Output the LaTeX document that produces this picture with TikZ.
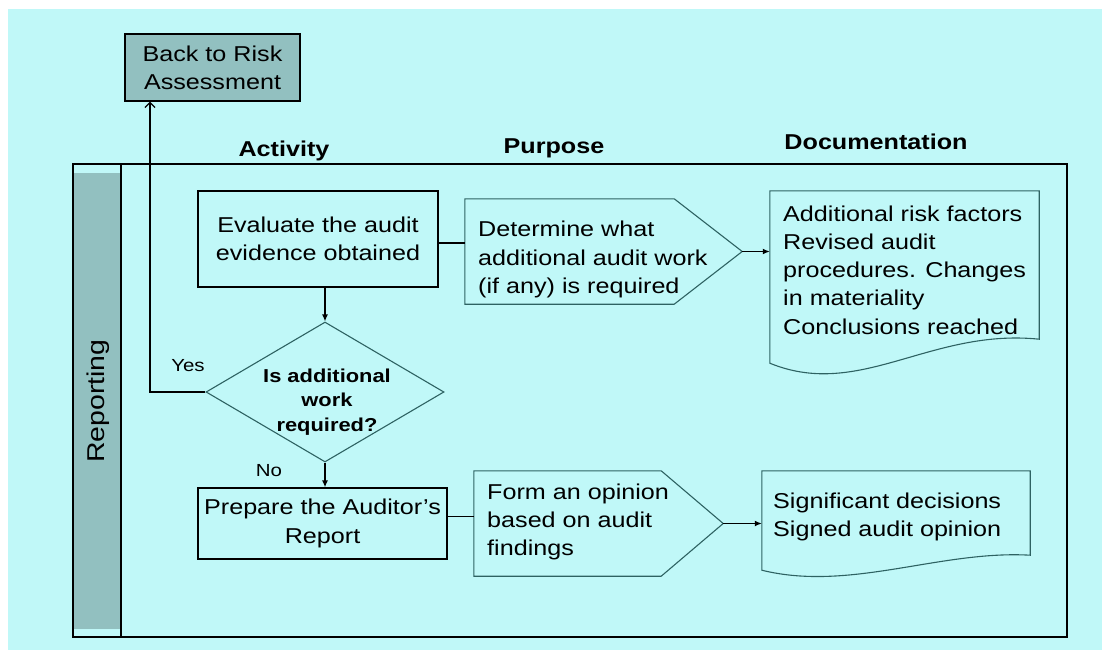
\documentclass[tikz,border=0pt]{standalone}
\usepackage{fontspec}
\setmainfont[FakeStretch=1.17]{Liberation Sans}
\usetikzlibrary{shapes.geometric,arrows.meta}
\definecolor{bgcyan}{HTML}{C0F8F8}
\definecolor{bandgray}{HTML}{92C0C0}
\definecolor{tealline}{HTML}{2E6262}
\begin{document}
\begin{tikzpicture}[x=1pt,y=-1pt,
  txt/.style={font=\fontsize{21.5}{28.2}\selectfont, inner sep=0pt},
  hdr/.style={font=\fontsize{21.5}{26}\selectfont\bfseries, inner sep=0pt},
  lbl/.style={font=\fontsize{17.5}{20}\selectfont, inner sep=0pt},
  abox/.style={txt, draw=black, line width=1.3pt, align=center},
  ghost/.style={draw=none, inner sep=0pt},
  pent/.style={draw=tealline, line width=1.1pt},
  docshape/.style={draw=tealline, line width=1.1pt},
  arr/.style={line width=1.3pt, -{Latex[length=7pt,width=6pt]}},
  conn/.style={line width=1.3pt},
  yesarr/.style={line width=1.3pt, -{Straight Barb[length=5pt,width=10pt]}}
]
\useasboundingbox (0,0) rectangle (1102,650);
\fill[white] (0,0) rectangle (1102,650);
\fill[bgcyan] (8,9) rectangle (1102,650);

% frame and swimlane band
\draw[line width=1.6pt] (73,164) rectangle (1067,637);
\fill[bandgray] (73.8,173) rectangle (120.3,629);
\draw[line width=1.6pt] (121,164) -- (121,637);
\node[rotate=90, font=\fontsize{24.3}{28}\selectfont, inner sep=0pt] (rep) at (98,401) {Reporting};

% headers
\node[hdr, anchor=base] (hact) at (284,157) {Activity};
\node[hdr, anchor=base] (hpur) at (554,153) {Purpose};
\node[hdr, anchor=base] (hdoc) at (876,149) {Documentation};

% back box
\node[abox, fill=bandgray, minimum width=175, minimum height=67] (back) at (212.5,67.5) {Back to Risk\\Assessment};

% activity column
\node[abox, minimum width=240, minimum height=96] (eval) at (318,239) {Evaluate the audit\\evidence obtained};
\node[diamond, draw=tealline, line width=1.1pt, minimum width=238, minimum height=140, inner sep=0pt, aspect=1.7] (dia) at (325,392) {};
\node[font=\fontsize{18.7}{24.5}\selectfont\bfseries, align=center, inner sep=0pt] (diat) at (327,402) {Is additional\\work\\required?};
\node[abox, minimum width=249, minimum height=71] (prep) at (322.5,523.5) {Prepare the Auditor’s\\Report};

% purpose column
\node[ghost, minimum width=277, minimum height=105] (p1) at (603.5,251.5) {};
\draw[pent] (p1.north west) -- ([xshift=-68pt]p1.north east) -- (p1.east) -- ([xshift=-68pt]p1.south east) -- (p1.south west) -- cycle;
\node[txt, anchor=west, align=left] (p1t) at (478,259.5) {Determine what\\additional audit work\\(if any) is required};

\node[ghost, minimum width=249, minimum height=105] (p2) at (598.5,523.5) {};
\draw[pent] (p2.north west) -- ([xshift=-62pt]p2.north east) -- (p2.east) -- ([xshift=-62pt]p2.south east) -- (p2.south west) -- cycle;
\node[txt, anchor=west, align=left] (p2t) at (487,522) {Form an opinion\\based on audit\\findings};

% documentation column
\node[ghost, minimum width=269, minimum height=172] (d1) at (904.5,277) {};
\draw[docshape] (d1.north west) -- (d1.north east) -- ([yshift=24pt]d1.south east) .. controls (930,328) and (860,400) .. (d1.south west) -- cycle;
\node[txt, anchor=west, align=left] (d1t) at (783,270) {Additional risk factors\\Revised audit\\procedures. Changes\\in materiality\\Conclusions reached};

\node[ghost, minimum width=268, minimum height=99] (d2) at (896,520.5) {};
\draw[docshape] (d2.north west) -- (d2.north east) -- ([yshift=15pt]d2.south east) .. controls (940,550) and (850,592) .. (d2.south west) -- cycle;
\node[txt, anchor=west, align=left] (d2t) at (773,517) {Significant decisions\\Signed audit opinion};

% connectors
\draw[conn] ([yshift=-4pt]eval.east) -- ([yshift=-4pt]eval.east -| p1.west);
\draw[arr] (p1.east) -- (p1.east -| d1.west);
\draw[arr] (eval.south -| dia.north) -- (dia.north);
\draw[arr] (dia.south) -- (dia.south |- prep.north);
\draw[conn] ([yshift=7pt]prep.east) -- ([yshift=7pt]prep.east -| p2.west);
\draw[arr] (p2.east) -- (p2.east -| d2.west);
\coordinate (yc) at (150,392);
\draw[yesarr] (dia.west) -- (yc) -- (yc |- back.south);

\node[lbl, anchor=base] (yes) at (188,371) {Yes};
\node[lbl, anchor=base] (no) at (269,476) {No};
\end{tikzpicture}
\end{document}
